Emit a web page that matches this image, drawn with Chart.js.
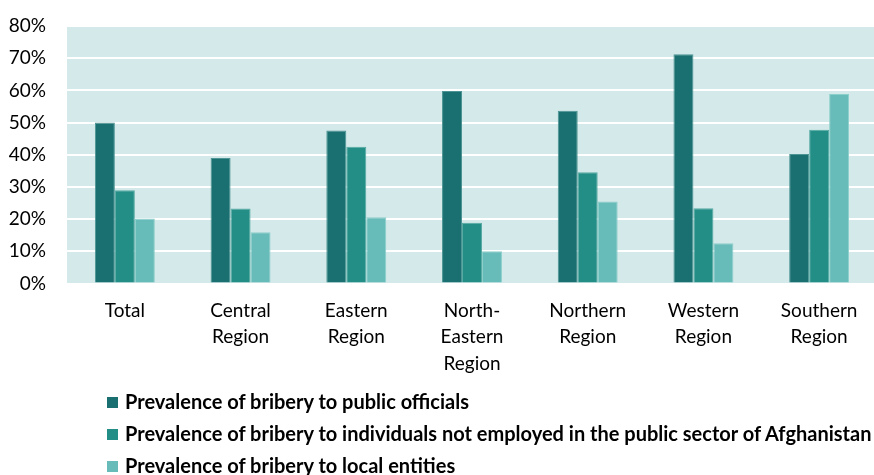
<!DOCTYPE html>
<html>
<head>
<meta charset="utf-8">
<script src="https://cdn.jsdelivr.net/npm/chart.js@4/dist/chart.umd.min.js"></script>
<style>
  html, body { margin: 0; padding: 0; background: #ffffff; overflow: hidden; width: 874px; height: 475px; }
  #wrap { position: relative; width: 880px; height: 475px; }
  #c { position: absolute; left: 0; top: 0; }
  .leg { position: absolute; left: 107px; font-family: Lato, "Open Sans", sans-serif; font-weight: bold; font-size: 20px; color: #000; white-space: nowrap; line-height: 22px; }
  .leg span.box { display: inline-block; width: 11px; height: 11px; margin-right: 7px; vertical-align: 1px; }
</style>
</head>
<body>
<div id="wrap">
  <canvas id="c" width="880" height="475"></canvas>
  <div id="legend"></div>
</div>
<script>
const categories = [["Total"], ["Central", "Region"], ["Eastern", "Region"], ["North-", "Eastern", "Region"], ["Northern", "Region"], ["Western", "Region"], ["Southern", "Region"]];
const publicOfficials = [50.0, 39.0, 47.5, 59.8, 53.7, 71.2, 40.2];
const nonPublicIndividuals = [29.0, 23.3, 42.5, 18.9, 34.6, 23.4, 47.8];
const localEntities = [20.2, 15.9, 20.6, 10.0, 25.5, 12.5, 58.9];
const yTicks = [0, 10, 20, 30, 40, 50, 60, 70, 80];
const seriesNames = [
  "Prevalence of bribery to public officials",
  "Prevalence of bribery to individuals not employed in the public sector of Afghanistan",
  "Prevalence of bribery to local entities"
];
const colors = ["#1a7070", "#238e86", "#67bbb8"];
const borders = ["#4d9595", "#56aaa3", "#8ccfcb"];

const bgPlugin = {
  id: 'plotBg',
  beforeDraw(chart) {
    const a = chart.chartArea, ctx = chart.ctx;
    ctx.save();
    ctx.fillStyle = '#d4e9ea';
    ctx.fillRect(a.left, a.top, a.right - a.left, a.bottom - a.top);
    ctx.restore();
  }
};

const data = [publicOfficials, nonPublicIndividuals, localEntities];
new Chart(document.getElementById('c'), {
  type: 'bar',
  data: {
    labels: categories,
    datasets: data.map((d, i) => ({
      label: seriesNames[i],
      data: d,
      backgroundColor: colors[i],
      borderColor: borders[i],
      borderWidth: 1,
      barPercentage: 1.0,
      categoryPercentage: 0.518
    }))
  },
  options: {
    responsive: false,
    animation: false,
    devicePixelRatio: 1,
    layout: { padding: { left: 0, right: 3, top: 26, bottom: 84 } },
    plugins: { legend: { display: false }, tooltip: { enabled: false } },
    scales: {
      x: {
        grid: { display: false, drawTicks: false },
        border: { display: false },
        afterFit(s) { s.paddingTop = 0; },
        ticks: {
          color: '#000',
          font: { family: 'Lato', size: 19, lineHeight: '26.5px' },
          padding: 14,
          maxRotation: 0,
          autoSkip: false
        }
      },
      y: {
        min: 0, max: 80,
        afterFit(s) { s.width = 67; s.paddingTop = 0; s.paddingBottom = 0; },
        afterBuildTicks(s) { s.ticks = yTicks.map(v => ({ value: v })); },
        grid: { color: '#ffffff', lineWidth: 2, drawTicks: false },
        border: { display: false },
        ticks: {
          color: '#000',
          font: { family: 'Lato', size: 19 },
          padding: 21,
          callback: v => v + '%'
        }
      }
    }
  },
  plugins: [bgPlugin]
});

const legend = document.getElementById('legend');
const rowTops = [390, 422, 454];
seriesNames.forEach((n, i) => {
  const d = document.createElement('div');
  d.className = 'leg';
  d.style.top = rowTops[i] + 'px';
  d.innerHTML = '<span class="box" style="background:' + colors[i] + '"></span>' + n;
  legend.appendChild(d);
});
</script>
</body>
</html>
